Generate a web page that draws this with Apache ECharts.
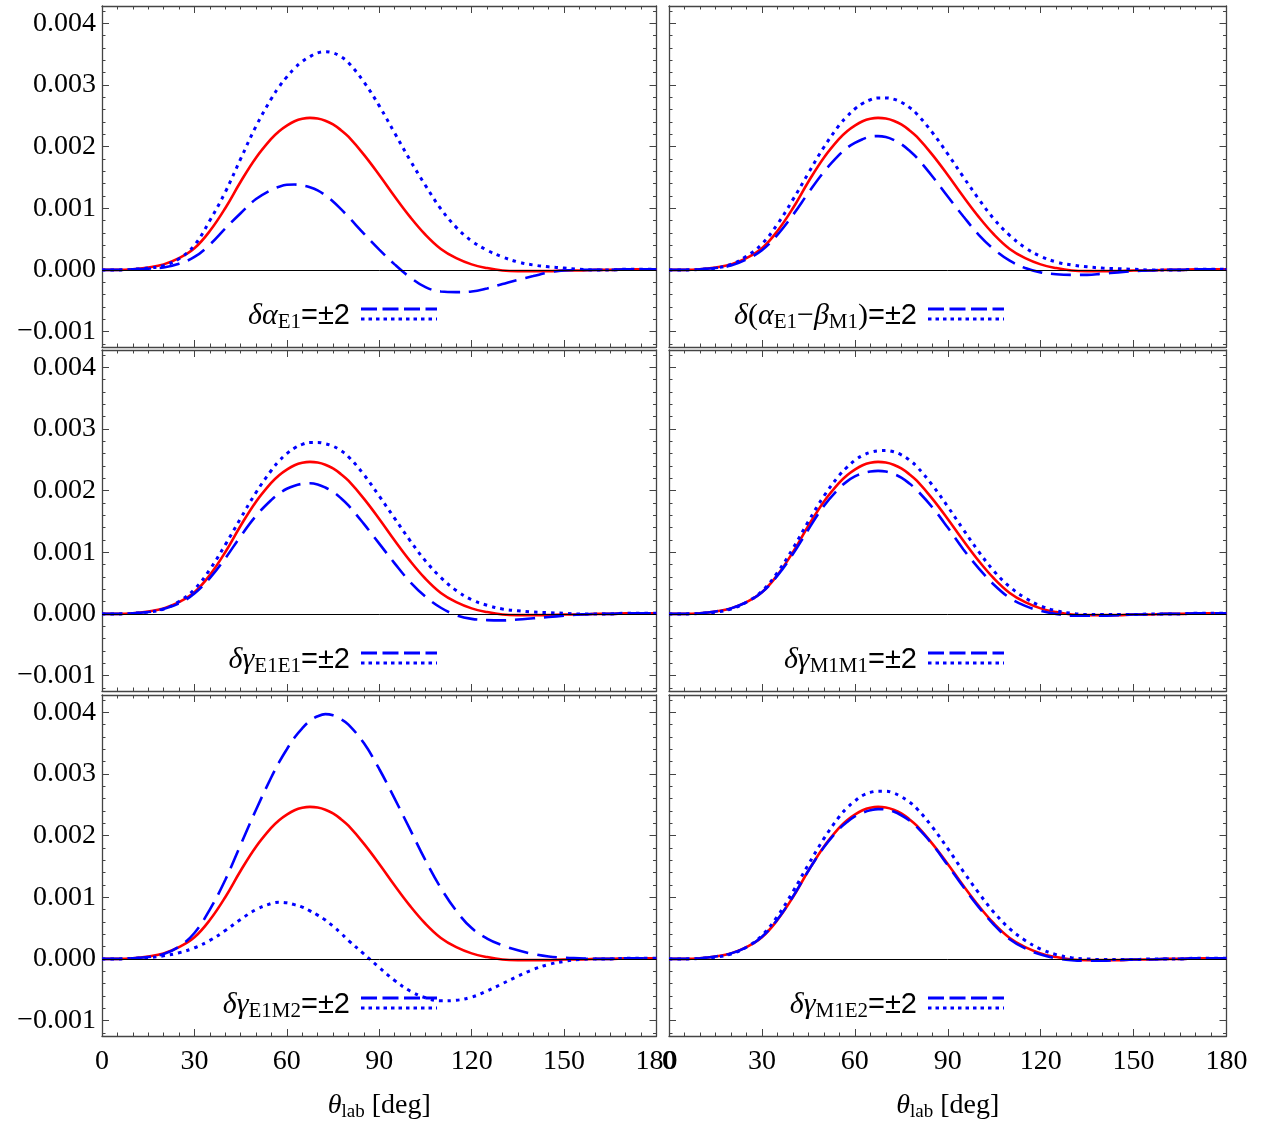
<!DOCTYPE html>
<html>
<head>
<meta charset="utf-8">
<script src="https://cdn.jsdelivr.net/npm/echarts@6/dist/echarts.min.js"></script>
<style>
  html, body { margin: 0; padding: 0; background: #fff; }
  #chart { width: 1267px; height: 1129px; }
</style>
</head>
<body>
<div id="chart"></div>
<script>
// scattering angle, deg (denser around the peaks)
const theta = [0, 5, 10, 15, 20, 25, 30, 35, 40, 45, 50,
               55, 57.5, 60, 62.5, 65, 67.5, 70, 72.5, 75, 77.5, 80,
               85, 90, 95, 100, 105, 110, 115, 120, 125, 130, 135, 140, 145, 150, 155, 160, 165, 170, 175, 180];

// values in units of 1e-3 (axis labels are scaled back)
const central = [0, 0, 0.01, 0.04, 0.09, 0.19, 0.35, 0.63, 1.00, 1.43, 1.82,
                 2.13, 2.25, 2.34, 2.41, 2.45, 2.465, 2.455, 2.42, 2.36, 2.27, 2.16,
                 1.87, 1.54, 1.19, 0.86, 0.57, 0.34, 0.19, 0.09, 0.03, -0.01, -0.02, -0.02, -0.02, -0.01, -0.01, 0, 0, 0.01, 0.01, 0.01];

const aE1Dashed = [0, 0, 0.01, 0.02, 0.04, 0.10, 0.21, 0.41, 0.67, 0.92, 1.15,
                   1.30, 1.35, 1.38, 1.385, 1.37, 1.34, 1.29, 1.21, 1.11, 0.99, 0.86,
                   0.59, 0.33, 0.09, -0.12, -0.28, -0.35, -0.36, -0.35, -0.30, -0.23, -0.16, -0.10, -0.04, -0.01, 0, 0, 0, 0.01, 0.01, 0.01];
const aE1Dotted = [0, 0, 0.01, 0.03, 0.07, 0.18, 0.40, 0.80, 1.26, 1.80, 2.33,
                   2.78, 2.97, 3.13, 3.27, 3.38, 3.46, 3.52, 3.54, 3.52, 3.46, 3.36,
                   3.05, 2.66, 2.22, 1.78, 1.37, 0.99, 0.69, 0.47, 0.32, 0.21, 0.13, 0.08, 0.05, 0.03, 0.01, 0, 0, 0.01, 0.01, 0.01];

const abDashed = [0, 0, 0.01, 0.03, 0.07, 0.17, 0.32, 0.57, 0.89, 1.25, 1.59,
                  1.87, 1.98, 2.06, 2.12, 2.16, 2.17, 2.155, 2.11, 2.04, 1.94, 1.82,
                  1.52, 1.19, 0.87, 0.57, 0.33, 0.15, 0.03, -0.04, -0.07, -0.08, -0.08, -0.06, -0.04, -0.02, -0.01, 0, 0, 0.01, 0.01, 0.01];
const abDotted = [0, 0, 0.01, 0.03, 0.09, 0.22, 0.42, 0.74, 1.14, 1.57, 1.99,
                  2.35, 2.49, 2.61, 2.70, 2.76, 2.79, 2.79, 2.77, 2.72, 2.64, 2.53,
                  2.23, 1.88, 1.51, 1.15, 0.82, 0.56, 0.36, 0.22, 0.13, 0.08, 0.05, 0.03, 0.02, 0.01, 0, 0, 0, 0.01, 0.01, 0.01];

const e1e1Dashed = [0, 0, 0.01, 0.03, 0.08, 0.17, 0.33, 0.58, 0.90, 1.26, 1.59,
                    1.85, 1.95, 2.03, 2.08, 2.11, 2.12, 2.10, 2.05, 1.98, 1.88, 1.76,
                    1.46, 1.14, 0.82, 0.52, 0.28, 0.10, -0.02, -0.08, -0.10, -0.105, -0.09, -0.07, -0.05, -0.03, -0.01, 0, 0, 0.01, 0.01, 0.01];
const e1e1Dotted = [0, 0, 0.01, 0.03, 0.08, 0.20, 0.40, 0.72, 1.12, 1.55, 1.97,
                    2.33, 2.48, 2.60, 2.69, 2.75, 2.78, 2.78, 2.76, 2.72, 2.65, 2.55,
                    2.26, 1.91, 1.55, 1.19, 0.86, 0.59, 0.38, 0.23, 0.14, 0.08, 0.05, 0.03, 0.02, 0.01, 0, 0, 0, 0.01, 0.01, 0.01];

const m1m1Dashed = [0, 0, 0.01, 0.04, 0.09, 0.19, 0.35, 0.62, 0.97, 1.37, 1.75,
                    2.04, 2.15, 2.23, 2.28, 2.31, 2.32, 2.31, 2.27, 2.21, 2.12, 2.01,
                    1.73, 1.40, 1.05, 0.74, 0.47, 0.26, 0.13, 0.05, 0, -0.03, -0.03, -0.03, -0.02, -0.01, -0.01, 0, 0, 0.01, 0.01, 0.01];
const m1m1Dotted = [0, 0, 0.01, 0.03, 0.08, 0.19, 0.37, 0.67, 1.06, 1.50, 1.91,
                    2.25, 2.38, 2.49, 2.57, 2.62, 2.645, 2.65, 2.63, 2.58, 2.50, 2.39,
                    2.09, 1.74, 1.37, 1.01, 0.69, 0.44, 0.26, 0.13, 0.05, 0.01, -0.01, -0.01, -0.01, -0.01, 0, 0, 0, 0.01, 0.01, 0.01];

const e1m2Dashed = [0, 0, 0.01, 0.03, 0.08, 0.20, 0.42, 0.80, 1.28, 1.85, 2.42,
                    2.95, 3.19, 3.40, 3.59, 3.74, 3.86, 3.935, 3.97, 3.95, 3.89, 3.80,
                    3.50, 3.08, 2.60, 2.10, 1.60, 1.15, 0.78, 0.50, 0.33, 0.22, 0.14, 0.08, 0.04, 0.02, 0.01, 0, 0, 0.01, 0.01, 0.01];
const e1m2Dotted = [0, 0, 0.01, 0.02, 0.05, 0.10, 0.18, 0.30, 0.46, 0.64, 0.80,
                    0.90, 0.92, 0.91, 0.88, 0.84, 0.78, 0.71, 0.63, 0.53, 0.42, 0.30,
                    0.08, -0.14, -0.35, -0.52, -0.63, -0.68, -0.67, -0.62, -0.52, -0.40, -0.28, -0.17, -0.09, -0.04, -0.01, 0, 0, 0.01, 0.01, 0.01];

const m1e2Dashed = [0, 0, 0.01, 0.04, 0.09, 0.19, 0.36, 0.64, 1.01, 1.43, 1.81,
                    2.11, 2.22, 2.31, 2.37, 2.41, 2.43, 2.425, 2.39, 2.33, 2.25, 2.14,
                    1.86, 1.52, 1.17, 0.84, 0.55, 0.32, 0.17, 0.07, 0.01, -0.02, -0.03, -0.03, -0.02, -0.01, -0.01, 0, 0, 0.01, 0.01, 0.01];
const m1e2Dotted = [0, 0, 0.01, 0.03, 0.08, 0.19, 0.38, 0.69, 1.09, 1.53, 1.95,
                    2.31, 2.45, 2.56, 2.65, 2.70, 2.72, 2.72, 2.69, 2.63, 2.55, 2.44,
                    2.14, 1.79, 1.42, 1.07, 0.75, 0.49, 0.30, 0.16, 0.07, 0.02, 0, -0.01, -0.01, -0.01, 0, 0, 0, 0.01, 0.01, 0.01];

// panel captions (rich text), row-major order
const captions = [
  '{i|δα}{s|E1}{n|=±2}',
  '{i|δ}{r|(}{i|α}{s|E1}{r|−}{i|β}{s|M1}{r|)}{n|=±2}',
  '{i|δγ}{s|E1E1}{n|=±2}',
  '{i|δγ}{s|M1M1}{n|=±2}',
  '{i|δγ}{s|E1M2}{n|=±2}',
  '{i|δγ}{s|M1E2}{n|=±2}'
];
const dashedSets = [aE1Dashed, abDashed, e1e1Dashed, m1m1Dashed, e1m2Dashed, m1e2Dashed];
const dottedSets = [aE1Dotted, abDotted, e1e1Dotted, m1m1Dotted, e1m2Dotted, m1e2Dotted];

const xTicks = { min: 0, max: 180, step: 30 };
const yRange = { min: -1.25, max: 4.28 };
const xName = '{i|θ}{s|lab}{r| [deg]}';

const SERIF = '"Liberation Serif", "DejaVu Serif", serif';
const SANS = '"Liberation Sans", "DejaVu Sans", sans-serif';
const RED = '#ff0000';
const BLUE = '#0000ff';
const FRAME = '#444444';

// layout
const colLeft = [102, 669];
const colWidth = [554.5, 557.5];
const rowTop = [6, 350, 695];
const rowH = 341;

const rich = {
  i: { fontFamily: SERIF, fontStyle: 'italic', fontSize: 30, lineHeight: 34, color: '#000', fill: '#000' },
  r: { fontFamily: SERIF, fontSize: 30, lineHeight: 34, color: '#000', fill: '#000' },
  s: { fontFamily: SERIF, fontSize: 21, lineHeight: 20, verticalAlign: 'bottom', color: '#000', fill: '#000' },
  n: { fontFamily: SANS, fontSize: 29, lineHeight: 34, color: '#000', fill: '#000' }
};
const axisRich = {
  i: { fontFamily: SERIF, fontStyle: 'italic', fontSize: 28, lineHeight: 32, color: '#000' },
  r: { fontFamily: SERIF, fontSize: 28, lineHeight: 32, color: '#000' },
  s: { fontFamily: SERIF, fontSize: 19, lineHeight: 18, verticalAlign: 'bottom', color: '#000' }
};

function pairs(arr) {
  return theta.map((t, i) => [t, arr[i]]);
}

function yLabel(v) {
  const s = (Math.abs(v) / 1000).toFixed(3);
  return v < 0 ? '\u2212' + s : s;
}

function makeX(gi, pos, labels) {
  return {
    type: 'value', gridIndex: gi, position: pos,
    min: xTicks.min, max: xTicks.max, interval: xTicks.step,
    axisLine: { show: true, onZero: false, lineStyle: { color: FRAME, width: 1.3 } },
    axisTick: { show: true, inside: true, length: 7, lineStyle: { color: FRAME, width: 1 } },
    minorTick: { show: true, splitNumber: 6, length: 3.5, lineStyle: { color: FRAME, width: 1 } },
    splitLine: { show: false },
    axisLabel: { show: labels, margin: 12, fontFamily: SERIF, fontSize: 28, color: '#000' },
    name: labels && pos === 'bottom' ? xName : '',
    nameLocation: 'middle', nameGap: 54,
    nameTextStyle: { rich: axisRich, fontFamily: SERIF, fontSize: 28, color: '#000' }
  };
}

function makeY(gi, pos, labels) {
  return {
    type: 'value', gridIndex: gi, position: pos,
    min: yRange.min, max: yRange.max, splitNumber: 5,
    axisLine: { show: true, onZero: false, lineStyle: { color: FRAME, width: 1.3 } },
    axisTick: { show: true, inside: true, length: 7, lineStyle: { color: FRAME, width: 1 } },
    minorTick: { show: true, splitNumber: 5, length: 3.5, lineStyle: { color: FRAME, width: 1 } },
    splitLine: { show: false },
    axisLabel: {
      show: labels, margin: 6, fontFamily: SERIF, fontSize: 28, color: '#000',
      showMinLabel: false, showMaxLabel: false, formatter: yLabel
    }
  };
}

const grids = [], xAxes = [], yAxes = [], series = [], graphics = [];

captions.forEach((cap, k) => {
  const col = k % 2, row = Math.floor(k / 2);
  const left = colLeft[col], top = rowTop[row];
  grids.push({ left: left, top: top, width: colWidth[col], height: rowH });
  xAxes.push(makeX(k, 'bottom', row === 2));
  xAxes.push(makeX(k, 'top', false));
  yAxes.push(makeY(k, 'left', col === 0));
  yAxes.push(makeY(k, 'right', false));

  const xi = 2 * k, yi = 2 * k;
  series.push({
    type: 'line', xAxisIndex: xi, yAxisIndex: yi, data: pairs(central),
    showSymbol: false, smooth: 0.4, lineStyle: { color: RED, width: 2.6 },
    markLine: {
      silent: true, symbol: ['none', 'none'], label: { show: false },
      lineStyle: { color: '#000', width: 1, type: 'solid' },
      data: [{ yAxis: 0 }]
    },
    z: 2
  });
  series.push({
    type: 'line', xAxisIndex: xi, yAxisIndex: yi, data: pairs(dashedSets[k]),
    showSymbol: false, smooth: 0.4,
    lineStyle: { color: BLUE, width: 2.6, type: [20, 9] }, z: 3
  });
  series.push({
    type: 'line', xAxisIndex: xi, yAxisIndex: yi, data: pairs(dottedSets[k]),
    showSymbol: false, smooth: 0.4,
    lineStyle: { color: BLUE, width: 3, type: [3.5, 5] }, z: 3
  });

  // caption + line key
  graphics.push({
    type: 'text', x: left + 248, y: top + 310,
    style: { text: cap, rich: rich, align: 'right', verticalAlign: 'middle' }
  });
  graphics.push({
    type: 'line', shape: { x1: left + 259, y1: top + 303, x2: left + 335, y2: top + 303 },
    style: { stroke: BLUE, lineWidth: 3.2, lineDash: [16, 5.5] }
  });
  graphics.push({
    type: 'line', shape: { x1: left + 259, y1: top + 313, x2: left + 335, y2: top + 313 },
    style: { stroke: BLUE, lineWidth: 3.2, lineDash: [3.5, 4] }
  });
});

const chart = echarts.init(document.getElementById('chart'), null, { renderer: 'canvas' });
chart.setOption({
  backgroundColor: '#fff',
  animation: false,
  grid: grids,
  xAxis: xAxes,
  yAxis: yAxes,
  series: series,
  graphic: graphics
});
</script>
</body>
</html>
